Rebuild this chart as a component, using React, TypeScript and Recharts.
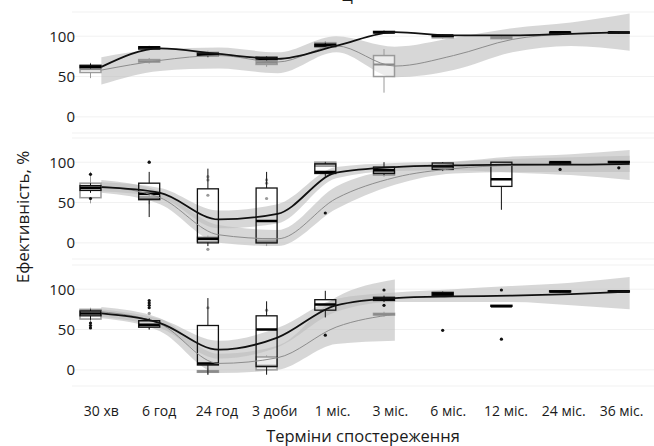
import { ComposedChart, Bar, Line, Area, XAxis, YAxis, CartesianGrid } from "recharts";

type Box = [number, number, number, number, number] | null; // lo, q1, med, q3, hi
type Band = [number, number] | null;

const categories = ["30 хв", "6 год", "24 год", "3 доби", "1 міс.", "3 міс.", "6 міс.", "12 міс.", "24 міс.", "36 міс."];
const yTicks = [0, 50, 100];
const Y_MIN = -20;
const Y_MAX = 130;

// ---- panel 1 ----
const p1GrayBox: Box[] = [
  [48, 55, 59, 63, 67], [66, 68, 69, 71, 73], [74, 76, 78, 80, 82], [62, 65, 67, 69, 71], [86, 88, 90, 92, 94],
  [30, 50, 65, 76, 84], [97, 98, 99, 100, 101], [96, 97, 98, 99, 100], null, null,
];
const p1BlackBox: Box[] = [
  [60, 61, 62, 64, 66], [83, 84, 86, 87, 88], [74, 76, 77, 79, 80], [70, 71, 72, 74, 75], [86, 87, 89, 90, 92],
  [103, 104, 105, 106, 107], [99, 100, 101, 101, 102], null, [103, 104, 105, 105, 106], [103, 104, 105, 105, 106],
];
const p1GrayOut: number[][] = [[], [], [], [], [], [], [], [], [], []];
const p1BlackOut: number[][] = [[], [], [], [], [], [], [], [], [], []];
const p1BlackLine = [62, 85, 78, 72, 88, 105, 101, 101, 103, 105];
const p1GrayLine = [58, 70, 76, 68, 88, 63, 76, 96, 103, 105];
const p1BlackBand: Band[] = [null, null, null, null, null, null, null, null, null, null];
const p1GrayBand: Band[] = [
  [40, 74], [57, 84], [60, 86], [54, 80], [80, 100], [49, 87], [58, 98], [80, 110], [88, 117], [82, 128],
];

// ---- panel 2 ----
const p2GrayBox: Box[] = [
  [49, 56, 70, 74, 88], [48, 53, 55, 57, 60], [0, 2, 5, 7, 9], [-4, 0, 2, 5, 6], [94, 95, 97, 100, 101],
  [82, 84, 86, 88, 89], [92, 93, 94, 95, 96], null, [98, 99, 100, 101, 101], null,
];
const p2BlackBox: Box[] = [
  [62, 65, 68, 71, 74], [32, 54, 61, 74, 88], [-4, 0, 5, 67, 92], [0, 0, 27, 68, 88], [82, 86, 88, 98, 100],
  [84, 86, 90, 94, 100], [89, 91, 95, 99, 100], [41, 70, 79, 100, 100], [97, 99, 100, 100, 101], [99, 100, 100, 101, 101],
];
const p2GrayOut: number[][] = [[], [100], [82, 78, 59, -8], [78, 74, 55], [], [], [], [], [], []];
const p2BlackOut: number[][] = [[85, 55], [100], [], [], [37], [], [], [], [91], [93]];
const p2BlackLine = [69, 62, 29, 36, 87, 94, 96, 97, 97, 98];
const p2GrayLine = [70, 56, 10, 5, 55, 81, 92, 96, 97, 97];
const p2BlackBand: Band[] = [
  [64, 75], [56, 68], [18, 40], [24, 48], [80, 94], [89, 99], [90, 101], [87, 107], [84, 110], [78, 115],
];
const p2GrayBand: Band[] = [
  [62, 78], [48, 64], [0, 22], [-4, 16], [42, 70], [72, 92], [86, 100], [88, 104], [88, 106], [88, 108],
];

// ---- panel 3 ----
const p3GrayBox: Box[] = [
  [55, 63, 73, 75, 77], [50, 53, 56, 60, 63], [-6, -3, -2, -1, 2], [-2, 0, 5, 16, 18], null,
  [66, 68, 69, 70, 72], [91, 92, 94, 96, 97], [78, 79, 79, 80, 80], [96, 97, 97, 98, 98], [96, 97, 97, 98, 98],
];
const p3BlackBox: Box[] = [
  [62, 67, 70, 73, 75], [50, 53, 56, 61, 64], [-6, 6, 8, 55, 89], [-6, 4, 50, 67, 85], [65, 74, 81, 87, 98],
  [84, 86, 88, 90, 92], [91, 92, 94, 96, 97], [78, 79, 79, 80, 80], [96, 97, 97, 98, 98], [96, 97, 97, 98, 98],
];
const p3GrayOut: number[][] = [[], [70], [77], [74], [], [], [], [], [], []];
const p3BlackOut: number[][] = [[58, 55, 52], [86, 83, 80, 77], [], [], [43], [99, 80], [49], [99, 38], [], []];
const p3BlackLine = [70, 58, 25, 40, 80, 89, 91, 92, 94, 97];
const p3GrayLine = [72, 57, 8, 15, 53, 69, null, null, null, null];
const p3BlackBand: Band[] = [
  [66, 75], [52, 63], [14, 36], [28, 52], [72, 88], [84, 96], [84, 100], [84, 104], [80, 108], [75, 115],
];
const p3GrayBand: Band[] = [
  [64, 78], [48, 64], [-4, 20], [0, 30], [32, 90], [36, 112], null, null, null, null,
];

const FONT = "'Open Sans', 'Noto Sans', sans-serif";

const buildRows = (
  gBox: Box[], bBox: Box[], gOut: number[][], bOut: number[][],
  bl: (number | null)[], gl: (number | null)[], bb: Band[], gb: Band[]
) =>
  categories.map((cat, i) => ({
    cat,
    gBox: gBox[i],
    bBox: bBox[i],
    gOut: gOut[i],
    bOut: bOut[i],
    bl: bl[i],
    gl: gl[i],
    bb: bb[i],
    gb: gb[i],
  }));

const panels = [
  buildRows(p1GrayBox, p1BlackBox, p1GrayOut, p1BlackOut, p1BlackLine, p1GrayLine, p1BlackBand, p1GrayBand),
  buildRows(p2GrayBox, p2BlackBox, p2GrayOut, p2BlackOut, p2BlackLine, p2GrayLine, p2BlackBand, p2GrayBand),
  buildRows(p3GrayBox, p3BlackBox, p3GrayOut, p3BlackOut, p3BlackLine, p3GrayLine, p3BlackBand, p3GrayBand),
];

const fullRange = () => [Y_MIN, Y_MAX];

// the bar spans the whole y domain, so its y/height give us the axis scale
const renderBox = (props: any, boxKey: string, outKey: string, dark: boolean) => {
  const { x, y, width, height, payload } = props;
  const box: Box = payload?.[boxKey];
  const outs: number[] = payload?.[outKey] || [];
  const py = (v: number) => y + ((Y_MAX - v) / (Y_MAX - Y_MIN)) * height;
  const cx = x + width / 2;
  const stroke = dark ? "#111" : "#9a9a9a";
  return (
    <g>
      {box && (
        <g>
          <line x1={cx} x2={cx} y1={py(box[4])} y2={py(box[3])} stroke={stroke} strokeWidth={1} />
          <line x1={cx} x2={cx} y1={py(box[1])} y2={py(box[0])} stroke={stroke} strokeWidth={1} />
          <rect
            x={x}
            y={py(box[3])}
            width={width}
            height={Math.max(py(box[1]) - py(box[3]), 1)}
            fill={dark ? "none" : "#ffffff"}
            fillOpacity={dark ? 0 : 0.55}
            stroke={stroke}
            strokeWidth={dark ? 1.3 : 1.5}
          />
          <line x1={x} x2={x + width} y1={py(box[2])} y2={py(box[2])} stroke={dark ? "#000" : "#8a8a8a"} strokeWidth={dark ? 2.5 : 2} />
        </g>
      )}
      {outs.map((v, i) => (
        <circle key={i} cx={cx} cy={py(v)} r={1.6} fill={dark ? "#111" : "#9a9a9a"} />
      ))}
    </g>
  );
};

// labels in the source drift slightly left of the box columns
const XTick = (props: any) => {
  const { x, y, payload, index } = props;
  return (
    <text x={x - index * 0.9} y={y} dy="0.71em" textAnchor="middle" fontSize={14} fill="#1a1a1a" fontFamily={FONT}>
      {payload.value}
    </text>
  );
};

const Panel = ({ rows, height, margin, showX }: { rows: any[]; height: number; margin: any; showX: boolean }) => (
  <ComposedChart
    width={660}
    height={height}
    data={rows}
    margin={margin}
    barCategoryGap={8}
    barGap={1}
    style={{ display: "block" }}
  >
    <CartesianGrid vertical={false} stroke="#f1f1f1" />
    <XAxis
      dataKey="cat"
      hide={!showX}
      height={40}
      axisLine={false}
      tickLine={false}
      tickSize={0}
      tickMargin={20}
      interval={0}
      tick={XTick}
    />
    <YAxis
      domain={[Y_MIN, Y_MAX]}
      ticks={yTicks}
      allowDataOverflow
      width={72}
      axisLine={false}
      tickLine={false}
      tickSize={0}
      tickMargin={0}
      tick={{ fontSize: 15, fill: "#1a1a1a", fontFamily: FONT, dx: 3 }}
    />
    <Area dataKey="gb" type="monotone" stroke="none" fill="#bcbcbc" fillOpacity={0.6} isAnimationActive={false} />
    <Area dataKey="bb" type="monotone" stroke="none" fill="#bcbcbc" fillOpacity={0.6} isAnimationActive={false} />
    <Line dataKey="gl" type="monotone" stroke="#8c8c8c" strokeWidth={1} dot={false} isAnimationActive={false} />
    <Line dataKey="bl" type="monotone" stroke="#111" strokeWidth={1.8} dot={false} isAnimationActive={false} />
    <Bar dataKey={fullRange} isAnimationActive={false} shape={(p: any) => renderBox(p, "gBox", "gOut", false)} />
    <Bar dataKey={fullRange} isAnimationActive={false} shape={(p: any) => renderBox(p, "bBox", "bOut", true)} />
  </ComposedChart>
);

export default function App() {
  return (
    <div
      style={{
        position: "absolute",
        left: 0,
        top: 0,
        width: 654,
        height: 446,
        overflow: "hidden",
        background: "#fff",
        fontFamily: FONT,
        color: "#1a1a1a",
      }}
    >
      <div style={{ position: "absolute", left: 341, top: -13, fontSize: 16, lineHeight: "16px" }}>Ц</div>
      <Panel rows={panels[0]} height={136} margin={{ top: 12, right: 1, bottom: 3, left: 0 }} showX={false} />
      <Panel rows={panels[1]} height={126} margin={{ top: 2, right: 1, bottom: 3, left: 0 }} showX={false} />
      <Panel rows={panels[2]} height={184} margin={{ top: 3, right: 1, bottom: 20, left: 0 }} showX={true} />
      <div
        style={{
          position: "absolute",
          left: 22,
          top: 217,
          transform: "translate(-50%, -50%) rotate(-90deg)",
          whiteSpace: "nowrap",
          fontSize: 17,
        }}
      >
        Ефективність, %
      </div>
      <div
        style={{
          position: "absolute",
          left: 363,
          top: 435,
          transform: "translate(-50%, -50%)",
          whiteSpace: "nowrap",
          fontSize: 16.5,
        }}
      >
        Терміни спостереження
      </div>
    </div>
  );
}
